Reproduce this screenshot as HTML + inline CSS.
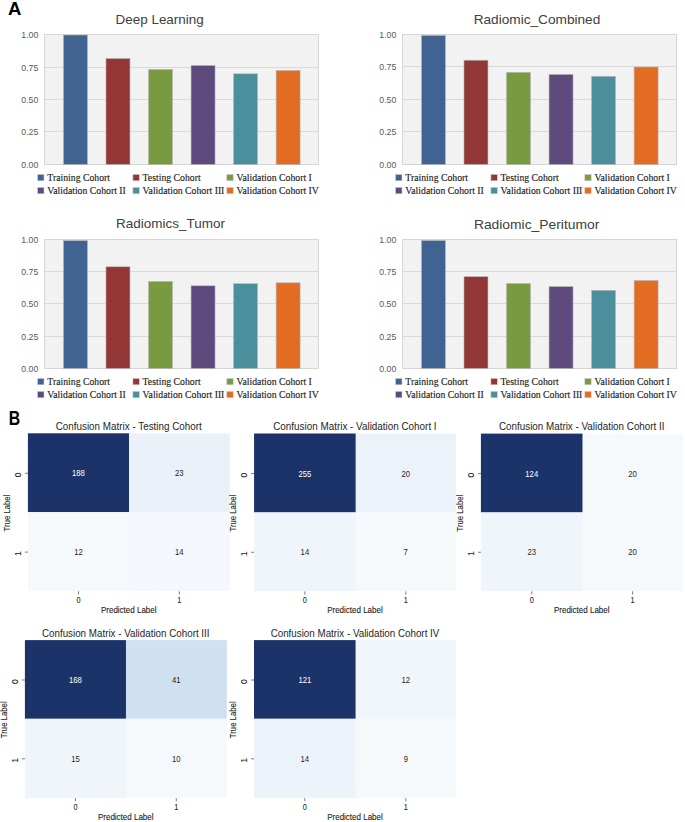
<!DOCTYPE html>
<html><head><meta charset="utf-8"><style>
html,body{margin:0;padding:0;background:#fff;overflow:hidden;}
svg{display:block;}
text{font-family:"Liberation Sans",sans-serif;}
.big{font-weight:bold;font-size:18.5px;fill:#000;}
.ct{font-size:13.4px;fill:#404040;}
.yt{font-size:9.3px;fill:#595959;}
.lg{font-family:"Liberation Serif",serif;font-size:9.75px;fill:#222;stroke:#222;stroke-width:0.14px;}
.mt{font-size:10.1px;fill:#262626;}
.an{font-size:9.6px;}
.tk{font-size:8.6px;fill:#1a1a1a;stroke:#1a1a1a;stroke-width:0.06px;}
.al{font-size:8.7px;fill:#1a1a1a;stroke:#1a1a1a;stroke-width:0.1px;}
</style></head><body>
<svg width="685" height="822" viewBox="0 0 685 822">
<rect width="685" height="822" fill="#fff"/>
<text x="8" y="15.2" class="big">A</text>
<rect x="44.5" y="34.5" width="274.0" height="130" fill="#f2f2f2" stroke="#d6d6d6" stroke-width="1"/>
<line x1="44.5" x2="318.5" y1="67.5" y2="67.5" stroke="#d9d9d9" stroke-width="1"/>
<line x1="44.5" x2="318.5" y1="99.5" y2="99.5" stroke="#d9d9d9" stroke-width="1"/>
<line x1="44.5" x2="318.5" y1="131.5" y2="131.5" stroke="#d9d9d9" stroke-width="1"/>
<text x="38.30" y="37.80" text-anchor="end" class="yt" textLength="17.0" lengthAdjust="spacingAndGlyphs">1.00</text>
<text x="38.30" y="70.80" text-anchor="end" class="yt" textLength="17.0" lengthAdjust="spacingAndGlyphs">0.75</text>
<text x="38.30" y="102.80" text-anchor="end" class="yt" textLength="17.0" lengthAdjust="spacingAndGlyphs">0.50</text>
<text x="38.30" y="134.80" text-anchor="end" class="yt" textLength="17.0" lengthAdjust="spacingAndGlyphs">0.25</text>
<text x="38.30" y="167.80" text-anchor="end" class="yt" textLength="17.0" lengthAdjust="spacingAndGlyphs">0.00</text>
<rect x="63.45" y="35.00" width="24" height="129.50" fill="#416392" stroke="#b8b8b8" stroke-width="0.6"/>
<rect x="105.98" y="58.50" width="24" height="106.00" fill="#923735" stroke="#b8b8b8" stroke-width="0.6"/>
<rect x="148.51" y="69.40" width="24" height="95.10" fill="#779B3E" stroke="#b8b8b8" stroke-width="0.6"/>
<rect x="191.04" y="65.50" width="24" height="99.00" fill="#5E4A7D" stroke="#b8b8b8" stroke-width="0.6"/>
<rect x="233.57" y="73.80" width="24" height="90.70" fill="#4A8F9B" stroke="#b8b8b8" stroke-width="0.6"/>
<rect x="276.10" y="70.50" width="24" height="94.00" fill="#E26C22" stroke="#b8b8b8" stroke-width="0.6"/>
<text x="159.65" y="23.6" text-anchor="middle" class="ct" textLength="88.2" lengthAdjust="spacingAndGlyphs">Deep Learning</text>
<rect x="37.60" y="174.40" width="6.4" height="6.4" fill="#416392" stroke="#cfcfcf" stroke-width="0.6"/>
<text x="47.30" y="181.10" class="lg">Training Cohort</text>
<rect x="132.90" y="174.40" width="6.4" height="6.4" fill="#923735" stroke="#cfcfcf" stroke-width="0.6"/>
<text x="142.60" y="181.10" class="lg">Testing Cohort</text>
<rect x="226.80" y="174.40" width="6.4" height="6.4" fill="#779B3E" stroke="#cfcfcf" stroke-width="0.6"/>
<text x="236.50" y="181.10" class="lg">Validation Cohort I</text>
<rect x="37.60" y="187.40" width="6.4" height="6.4" fill="#5E4A7D" stroke="#cfcfcf" stroke-width="0.6"/>
<text x="47.30" y="194.10" class="lg">Validation Cohort II</text>
<rect x="132.90" y="187.40" width="6.4" height="6.4" fill="#4A8F9B" stroke="#cfcfcf" stroke-width="0.6"/>
<text x="142.60" y="194.10" class="lg">Validation Cohort III</text>
<rect x="226.80" y="187.40" width="6.4" height="6.4" fill="#E26C22" stroke="#cfcfcf" stroke-width="0.6"/>
<text x="236.50" y="194.10" class="lg">Validation Cohort IV</text>
<rect x="402.5" y="34.5" width="274.0" height="130" fill="#f2f2f2" stroke="#d6d6d6" stroke-width="1"/>
<line x1="402.5" x2="676.5" y1="66.5" y2="66.5" stroke="#d9d9d9" stroke-width="1"/>
<line x1="402.5" x2="676.5" y1="99.5" y2="99.5" stroke="#d9d9d9" stroke-width="1"/>
<line x1="402.5" x2="676.5" y1="131.5" y2="131.5" stroke="#d9d9d9" stroke-width="1"/>
<text x="396.30" y="37.80" text-anchor="end" class="yt" textLength="17.0" lengthAdjust="spacingAndGlyphs">1.00</text>
<text x="396.30" y="69.80" text-anchor="end" class="yt" textLength="17.0" lengthAdjust="spacingAndGlyphs">0.75</text>
<text x="396.30" y="102.80" text-anchor="end" class="yt" textLength="17.0" lengthAdjust="spacingAndGlyphs">0.50</text>
<text x="396.30" y="134.80" text-anchor="end" class="yt" textLength="17.0" lengthAdjust="spacingAndGlyphs">0.25</text>
<text x="396.30" y="167.80" text-anchor="end" class="yt" textLength="17.0" lengthAdjust="spacingAndGlyphs">0.00</text>
<rect x="421.45" y="35.40" width="24" height="129.10" fill="#416392" stroke="#b8b8b8" stroke-width="0.6"/>
<rect x="463.98" y="60.20" width="24" height="104.30" fill="#923735" stroke="#b8b8b8" stroke-width="0.6"/>
<rect x="506.51" y="72.30" width="24" height="92.20" fill="#779B3E" stroke="#b8b8b8" stroke-width="0.6"/>
<rect x="549.04" y="74.40" width="24" height="90.10" fill="#5E4A7D" stroke="#b8b8b8" stroke-width="0.6"/>
<rect x="591.57" y="76.30" width="24" height="88.20" fill="#4A8F9B" stroke="#b8b8b8" stroke-width="0.6"/>
<rect x="634.10" y="67.00" width="24" height="97.50" fill="#E26C22" stroke="#b8b8b8" stroke-width="0.6"/>
<text x="537.0" y="23.7" text-anchor="middle" class="ct" textLength="126.6" lengthAdjust="spacingAndGlyphs">Radiomic_Combined</text>
<rect x="395.60" y="174.40" width="6.4" height="6.4" fill="#416392" stroke="#cfcfcf" stroke-width="0.6"/>
<text x="405.30" y="181.10" class="lg">Training Cohort</text>
<rect x="490.90" y="174.40" width="6.4" height="6.4" fill="#923735" stroke="#cfcfcf" stroke-width="0.6"/>
<text x="500.60" y="181.10" class="lg">Testing Cohort</text>
<rect x="584.80" y="174.40" width="6.4" height="6.4" fill="#779B3E" stroke="#cfcfcf" stroke-width="0.6"/>
<text x="594.50" y="181.10" class="lg">Validation Cohort I</text>
<rect x="395.60" y="187.40" width="6.4" height="6.4" fill="#5E4A7D" stroke="#cfcfcf" stroke-width="0.6"/>
<text x="405.30" y="194.10" class="lg">Validation Cohort II</text>
<rect x="490.90" y="187.40" width="6.4" height="6.4" fill="#4A8F9B" stroke="#cfcfcf" stroke-width="0.6"/>
<text x="500.60" y="194.10" class="lg">Validation Cohort III</text>
<rect x="584.80" y="187.40" width="6.4" height="6.4" fill="#E26C22" stroke="#cfcfcf" stroke-width="0.6"/>
<text x="594.50" y="194.10" class="lg">Validation Cohort IV</text>
<rect x="44.5" y="239.5" width="274.0" height="129" fill="#f2f2f2" stroke="#d6d6d6" stroke-width="1"/>
<line x1="44.5" x2="318.5" y1="271.5" y2="271.5" stroke="#d9d9d9" stroke-width="1"/>
<line x1="44.5" x2="318.5" y1="303.5" y2="303.5" stroke="#d9d9d9" stroke-width="1"/>
<line x1="44.5" x2="318.5" y1="336.5" y2="336.5" stroke="#d9d9d9" stroke-width="1"/>
<text x="38.30" y="242.80" text-anchor="end" class="yt" textLength="17.0" lengthAdjust="spacingAndGlyphs">1.00</text>
<text x="38.30" y="274.80" text-anchor="end" class="yt" textLength="17.0" lengthAdjust="spacingAndGlyphs">0.75</text>
<text x="38.30" y="306.80" text-anchor="end" class="yt" textLength="17.0" lengthAdjust="spacingAndGlyphs">0.50</text>
<text x="38.30" y="339.80" text-anchor="end" class="yt" textLength="17.0" lengthAdjust="spacingAndGlyphs">0.25</text>
<text x="38.30" y="371.80" text-anchor="end" class="yt" textLength="17.0" lengthAdjust="spacingAndGlyphs">0.00</text>
<rect x="63.45" y="240.60" width="24" height="127.90" fill="#416392" stroke="#b8b8b8" stroke-width="0.6"/>
<rect x="105.98" y="266.80" width="24" height="101.70" fill="#923735" stroke="#b8b8b8" stroke-width="0.6"/>
<rect x="148.51" y="281.40" width="24" height="87.10" fill="#779B3E" stroke="#b8b8b8" stroke-width="0.6"/>
<rect x="191.04" y="285.80" width="24" height="82.70" fill="#5E4A7D" stroke="#b8b8b8" stroke-width="0.6"/>
<rect x="233.57" y="283.70" width="24" height="84.80" fill="#4A8F9B" stroke="#b8b8b8" stroke-width="0.6"/>
<rect x="276.10" y="282.80" width="24" height="85.70" fill="#E26C22" stroke="#b8b8b8" stroke-width="0.6"/>
<text x="170.5" y="228.4" text-anchor="middle" class="ct" textLength="108.9" lengthAdjust="spacingAndGlyphs">Radiomics_Tumor</text>
<rect x="37.60" y="378.40" width="6.4" height="6.4" fill="#416392" stroke="#cfcfcf" stroke-width="0.6"/>
<text x="47.30" y="385.10" class="lg">Training Cohort</text>
<rect x="132.90" y="378.40" width="6.4" height="6.4" fill="#923735" stroke="#cfcfcf" stroke-width="0.6"/>
<text x="142.60" y="385.10" class="lg">Testing Cohort</text>
<rect x="226.80" y="378.40" width="6.4" height="6.4" fill="#779B3E" stroke="#cfcfcf" stroke-width="0.6"/>
<text x="236.50" y="385.10" class="lg">Validation Cohort I</text>
<rect x="37.60" y="391.40" width="6.4" height="6.4" fill="#5E4A7D" stroke="#cfcfcf" stroke-width="0.6"/>
<text x="47.30" y="398.10" class="lg">Validation Cohort II</text>
<rect x="132.90" y="391.40" width="6.4" height="6.4" fill="#4A8F9B" stroke="#cfcfcf" stroke-width="0.6"/>
<text x="142.60" y="398.10" class="lg">Validation Cohort III</text>
<rect x="226.80" y="391.40" width="6.4" height="6.4" fill="#E26C22" stroke="#cfcfcf" stroke-width="0.6"/>
<text x="236.50" y="398.10" class="lg">Validation Cohort IV</text>
<rect x="402.5" y="239.5" width="274.0" height="129" fill="#f2f2f2" stroke="#d6d6d6" stroke-width="1"/>
<line x1="402.5" x2="676.5" y1="271.5" y2="271.5" stroke="#d9d9d9" stroke-width="1"/>
<line x1="402.5" x2="676.5" y1="303.5" y2="303.5" stroke="#d9d9d9" stroke-width="1"/>
<line x1="402.5" x2="676.5" y1="336.5" y2="336.5" stroke="#d9d9d9" stroke-width="1"/>
<text x="396.30" y="242.80" text-anchor="end" class="yt" textLength="17.0" lengthAdjust="spacingAndGlyphs">1.00</text>
<text x="396.30" y="274.80" text-anchor="end" class="yt" textLength="17.0" lengthAdjust="spacingAndGlyphs">0.75</text>
<text x="396.30" y="306.80" text-anchor="end" class="yt" textLength="17.0" lengthAdjust="spacingAndGlyphs">0.50</text>
<text x="396.30" y="339.80" text-anchor="end" class="yt" textLength="17.0" lengthAdjust="spacingAndGlyphs">0.25</text>
<text x="396.30" y="371.80" text-anchor="end" class="yt" textLength="17.0" lengthAdjust="spacingAndGlyphs">0.00</text>
<rect x="421.45" y="240.50" width="24" height="128.00" fill="#416392" stroke="#b8b8b8" stroke-width="0.6"/>
<rect x="463.98" y="276.70" width="24" height="91.80" fill="#923735" stroke="#b8b8b8" stroke-width="0.6"/>
<rect x="506.51" y="283.50" width="24" height="85.00" fill="#779B3E" stroke="#b8b8b8" stroke-width="0.6"/>
<rect x="549.04" y="286.60" width="24" height="81.90" fill="#5E4A7D" stroke="#b8b8b8" stroke-width="0.6"/>
<rect x="591.57" y="290.30" width="24" height="78.20" fill="#4A8F9B" stroke="#b8b8b8" stroke-width="0.6"/>
<rect x="634.10" y="280.50" width="24" height="88.00" fill="#E26C22" stroke="#b8b8b8" stroke-width="0.6"/>
<text x="536.6" y="228.6" text-anchor="middle" class="ct" textLength="125.4" lengthAdjust="spacingAndGlyphs">Radiomic_Peritumor</text>
<rect x="395.60" y="378.40" width="6.4" height="6.4" fill="#416392" stroke="#cfcfcf" stroke-width="0.6"/>
<text x="405.30" y="385.10" class="lg">Training Cohort</text>
<rect x="490.90" y="378.40" width="6.4" height="6.4" fill="#923735" stroke="#cfcfcf" stroke-width="0.6"/>
<text x="500.60" y="385.10" class="lg">Testing Cohort</text>
<rect x="584.80" y="378.40" width="6.4" height="6.4" fill="#779B3E" stroke="#cfcfcf" stroke-width="0.6"/>
<text x="594.50" y="385.10" class="lg">Validation Cohort I</text>
<rect x="395.60" y="391.40" width="6.4" height="6.4" fill="#5E4A7D" stroke="#cfcfcf" stroke-width="0.6"/>
<text x="405.30" y="398.10" class="lg">Validation Cohort II</text>
<rect x="490.90" y="391.40" width="6.4" height="6.4" fill="#4A8F9B" stroke="#cfcfcf" stroke-width="0.6"/>
<text x="500.60" y="398.10" class="lg">Validation Cohort III</text>
<rect x="584.80" y="391.40" width="6.4" height="6.4" fill="#E26C22" stroke="#cfcfcf" stroke-width="0.6"/>
<text x="594.50" y="398.10" class="lg">Validation Cohort IV</text>
<text transform="translate(8.7,425.4) scale(0.8,1)" class="big" style="font-size:19.8px">B</text>
<rect x="27.90" y="433.30" width="101.35" height="79.00" fill="#1c336a"/>
<rect x="129.05" y="433.30" width="100.75" height="79.00" fill="#eaf1f8"/>
<rect x="27.90" y="512.10" width="101.35" height="79.00" fill="#f6f9fc"/>
<rect x="129.05" y="512.10" width="100.75" height="79.00" fill="#f4f8fc"/>
<text transform="translate(78.48,476.30) scale(0.8,1)" text-anchor="middle" class="an" fill="#ffffff">188</text>
<text transform="translate(179.32,476.30) scale(0.8,1)" text-anchor="middle" class="an" fill="#262626">23</text>
<text transform="translate(78.48,555.10) scale(0.8,1)" text-anchor="middle" class="an" fill="#262626">12</text>
<text transform="translate(179.32,555.10) scale(0.8,1)" text-anchor="middle" class="an" fill="#262626">14</text>
<line x1="78.48" x2="78.48" y1="591.30" y2="594.50" stroke="#444" stroke-width="0.7"/>
<text transform="translate(78.48,603.30) scale(0.85,1)" text-anchor="middle" class="tk">0</text>
<line x1="179.32" x2="179.32" y1="591.30" y2="594.50" stroke="#444" stroke-width="0.7"/>
<text transform="translate(179.32,603.30) scale(0.85,1)" text-anchor="middle" class="tk">1</text>
<line x1="24.90" x2="27.90" y1="473.30" y2="473.30" stroke="#444" stroke-width="0.7"/>
<text transform="translate(21.30,474.80) rotate(-90)" text-anchor="middle" class="tk">0</text>
<line x1="24.90" x2="27.90" y1="552.10" y2="552.10" stroke="#444" stroke-width="0.7"/>
<text transform="translate(21.30,553.60) rotate(-90)" text-anchor="middle" class="tk">1</text>
<text x="128.75" y="613.30" text-anchor="middle" class="al" textLength="55.6" lengthAdjust="spacingAndGlyphs">Predicted Label</text>
<text transform="translate(10.30,513.00) rotate(-90)" text-anchor="middle" class="al" textLength="36.8" lengthAdjust="spacingAndGlyphs">True Label</text>
<text x="128.75" y="430.10" text-anchor="middle" class="mt" textLength="146.1" lengthAdjust="spacingAndGlyphs">Confusion Matrix - Testing Cohort</text>
<rect x="254.05" y="433.50" width="101.85" height="79.05" fill="#1c336a"/>
<rect x="355.70" y="433.50" width="100.30" height="79.05" fill="#ecf2f9"/>
<rect x="254.05" y="512.35" width="101.85" height="78.85" fill="#f0f5fb"/>
<rect x="355.70" y="512.35" width="100.30" height="78.85" fill="#f6f9fc"/>
<text transform="translate(304.88,476.53) scale(0.8,1)" text-anchor="middle" class="an" fill="#ffffff">255</text>
<text transform="translate(405.75,476.53) scale(0.8,1)" text-anchor="middle" class="an" fill="#262626">20</text>
<text transform="translate(304.88,555.27) scale(0.8,1)" text-anchor="middle" class="an" fill="#262626">14</text>
<text transform="translate(405.75,555.27) scale(0.8,1)" text-anchor="middle" class="an" fill="#262626">7</text>
<line x1="304.88" x2="304.88" y1="591.40" y2="594.60" stroke="#444" stroke-width="0.7"/>
<text transform="translate(304.88,603.40) scale(0.85,1)" text-anchor="middle" class="tk">0</text>
<line x1="405.75" x2="405.75" y1="591.40" y2="594.60" stroke="#444" stroke-width="0.7"/>
<text transform="translate(405.75,603.40) scale(0.85,1)" text-anchor="middle" class="tk">1</text>
<line x1="251.05" x2="254.05" y1="473.53" y2="473.53" stroke="#444" stroke-width="0.7"/>
<text transform="translate(247.45,475.03) rotate(-90)" text-anchor="middle" class="tk">0</text>
<line x1="251.05" x2="254.05" y1="552.27" y2="552.27" stroke="#444" stroke-width="0.7"/>
<text transform="translate(247.45,553.77) rotate(-90)" text-anchor="middle" class="tk">1</text>
<text x="354.93" y="613.40" text-anchor="middle" class="al" textLength="55.6" lengthAdjust="spacingAndGlyphs">Predicted Label</text>
<text transform="translate(236.45,513.15) rotate(-90)" text-anchor="middle" class="al" textLength="36.8" lengthAdjust="spacingAndGlyphs">True Label</text>
<text x="354.93" y="430.30" text-anchor="middle" class="mt" textLength="163.4" lengthAdjust="spacingAndGlyphs">Confusion Matrix - Validation Cohort I</text>
<rect x="480.90" y="433.60" width="101.90" height="78.95" fill="#1c336a"/>
<rect x="582.60" y="433.60" width="100.20" height="78.95" fill="#f6f9fc"/>
<rect x="480.90" y="512.35" width="101.90" height="78.75" fill="#f0f5fb"/>
<rect x="582.60" y="512.35" width="100.20" height="78.75" fill="#f6f9fc"/>
<text transform="translate(531.75,476.58) scale(0.8,1)" text-anchor="middle" class="an" fill="#ffffff">124</text>
<text transform="translate(632.60,476.58) scale(0.8,1)" text-anchor="middle" class="an" fill="#262626">20</text>
<text transform="translate(531.75,555.23) scale(0.8,1)" text-anchor="middle" class="an" fill="#262626">23</text>
<text transform="translate(632.60,555.23) scale(0.8,1)" text-anchor="middle" class="an" fill="#262626">20</text>
<line x1="531.75" x2="531.75" y1="591.30" y2="594.50" stroke="#444" stroke-width="0.7"/>
<text transform="translate(531.75,603.30) scale(0.85,1)" text-anchor="middle" class="tk">0</text>
<line x1="632.60" x2="632.60" y1="591.30" y2="594.50" stroke="#444" stroke-width="0.7"/>
<text transform="translate(632.60,603.30) scale(0.85,1)" text-anchor="middle" class="tk">1</text>
<line x1="477.90" x2="480.90" y1="473.58" y2="473.58" stroke="#444" stroke-width="0.7"/>
<text transform="translate(474.30,475.08) rotate(-90)" text-anchor="middle" class="tk">0</text>
<line x1="477.90" x2="480.90" y1="552.23" y2="552.23" stroke="#444" stroke-width="0.7"/>
<text transform="translate(474.30,553.73) rotate(-90)" text-anchor="middle" class="tk">1</text>
<text x="581.75" y="613.30" text-anchor="middle" class="al" textLength="55.6" lengthAdjust="spacingAndGlyphs">Predicted Label</text>
<text transform="translate(463.30,513.15) rotate(-90)" text-anchor="middle" class="al" textLength="36.8" lengthAdjust="spacingAndGlyphs">True Label</text>
<text x="581.75" y="430.40" text-anchor="middle" class="mt" textLength="165.6" lengthAdjust="spacingAndGlyphs">Confusion Matrix - Validation Cohort II</text>
<rect x="24.90" y="640.10" width="101.25" height="78.80" fill="#1c336a"/>
<rect x="125.95" y="640.10" width="100.85" height="78.80" fill="#cfe0f0"/>
<rect x="24.90" y="718.70" width="101.25" height="79.20" fill="#f0f5fa"/>
<rect x="125.95" y="718.70" width="100.85" height="79.20" fill="#f6f9fc"/>
<text transform="translate(75.42,683.00) scale(0.8,1)" text-anchor="middle" class="an" fill="#ffffff">168</text>
<text transform="translate(176.28,683.00) scale(0.8,1)" text-anchor="middle" class="an" fill="#262626">41</text>
<text transform="translate(75.42,761.80) scale(0.8,1)" text-anchor="middle" class="an" fill="#262626">15</text>
<text transform="translate(176.28,761.80) scale(0.8,1)" text-anchor="middle" class="an" fill="#262626">10</text>
<line x1="75.42" x2="75.42" y1="798.10" y2="801.30" stroke="#444" stroke-width="0.7"/>
<text transform="translate(75.42,810.10) scale(0.85,1)" text-anchor="middle" class="tk">0</text>
<line x1="176.28" x2="176.28" y1="798.10" y2="801.30" stroke="#444" stroke-width="0.7"/>
<text transform="translate(176.28,810.10) scale(0.85,1)" text-anchor="middle" class="tk">1</text>
<line x1="21.90" x2="24.90" y1="680.00" y2="680.00" stroke="#444" stroke-width="0.7"/>
<text transform="translate(18.30,681.50) rotate(-90)" text-anchor="middle" class="tk">0</text>
<line x1="21.90" x2="24.90" y1="758.80" y2="758.80" stroke="#444" stroke-width="0.7"/>
<text transform="translate(18.30,760.30) rotate(-90)" text-anchor="middle" class="tk">1</text>
<text x="125.75" y="820.10" text-anchor="middle" class="al" textLength="55.6" lengthAdjust="spacingAndGlyphs">Predicted Label</text>
<text transform="translate(7.30,719.80) rotate(-90)" text-anchor="middle" class="al" textLength="36.8" lengthAdjust="spacingAndGlyphs">True Label</text>
<text x="125.75" y="636.90" text-anchor="middle" class="mt" textLength="167.6" lengthAdjust="spacingAndGlyphs">Confusion Matrix - Validation Cohort III</text>
<rect x="254.00" y="640.10" width="101.86" height="78.80" fill="#1c336a"/>
<rect x="355.66" y="640.10" width="100.54" height="78.80" fill="#f1f6fb"/>
<rect x="254.00" y="718.70" width="101.86" height="79.20" fill="#edf3fa"/>
<rect x="355.66" y="718.70" width="100.54" height="79.20" fill="#f6f9fc"/>
<text transform="translate(304.83,683.00) scale(0.8,1)" text-anchor="middle" class="an" fill="#ffffff">121</text>
<text transform="translate(405.83,683.00) scale(0.8,1)" text-anchor="middle" class="an" fill="#262626">12</text>
<text transform="translate(304.83,761.80) scale(0.8,1)" text-anchor="middle" class="an" fill="#262626">14</text>
<text transform="translate(405.83,761.80) scale(0.8,1)" text-anchor="middle" class="an" fill="#262626">9</text>
<line x1="304.83" x2="304.83" y1="798.10" y2="801.30" stroke="#444" stroke-width="0.7"/>
<text transform="translate(304.83,810.10) scale(0.85,1)" text-anchor="middle" class="tk">0</text>
<line x1="405.83" x2="405.83" y1="798.10" y2="801.30" stroke="#444" stroke-width="0.7"/>
<text transform="translate(405.83,810.10) scale(0.85,1)" text-anchor="middle" class="tk">1</text>
<line x1="251.00" x2="254.00" y1="680.00" y2="680.00" stroke="#444" stroke-width="0.7"/>
<text transform="translate(247.40,681.50) rotate(-90)" text-anchor="middle" class="tk">0</text>
<line x1="251.00" x2="254.00" y1="758.80" y2="758.80" stroke="#444" stroke-width="0.7"/>
<text transform="translate(247.40,760.30) rotate(-90)" text-anchor="middle" class="tk">1</text>
<text x="355.00" y="820.10" text-anchor="middle" class="al" textLength="55.6" lengthAdjust="spacingAndGlyphs">Predicted Label</text>
<text transform="translate(236.40,719.80) rotate(-90)" text-anchor="middle" class="al" textLength="36.8" lengthAdjust="spacingAndGlyphs">True Label</text>
<text x="355.00" y="636.90" text-anchor="middle" class="mt" textLength="168.7" lengthAdjust="spacingAndGlyphs">Confusion Matrix - Validation Cohort IV</text>
</svg>
</body></html>
